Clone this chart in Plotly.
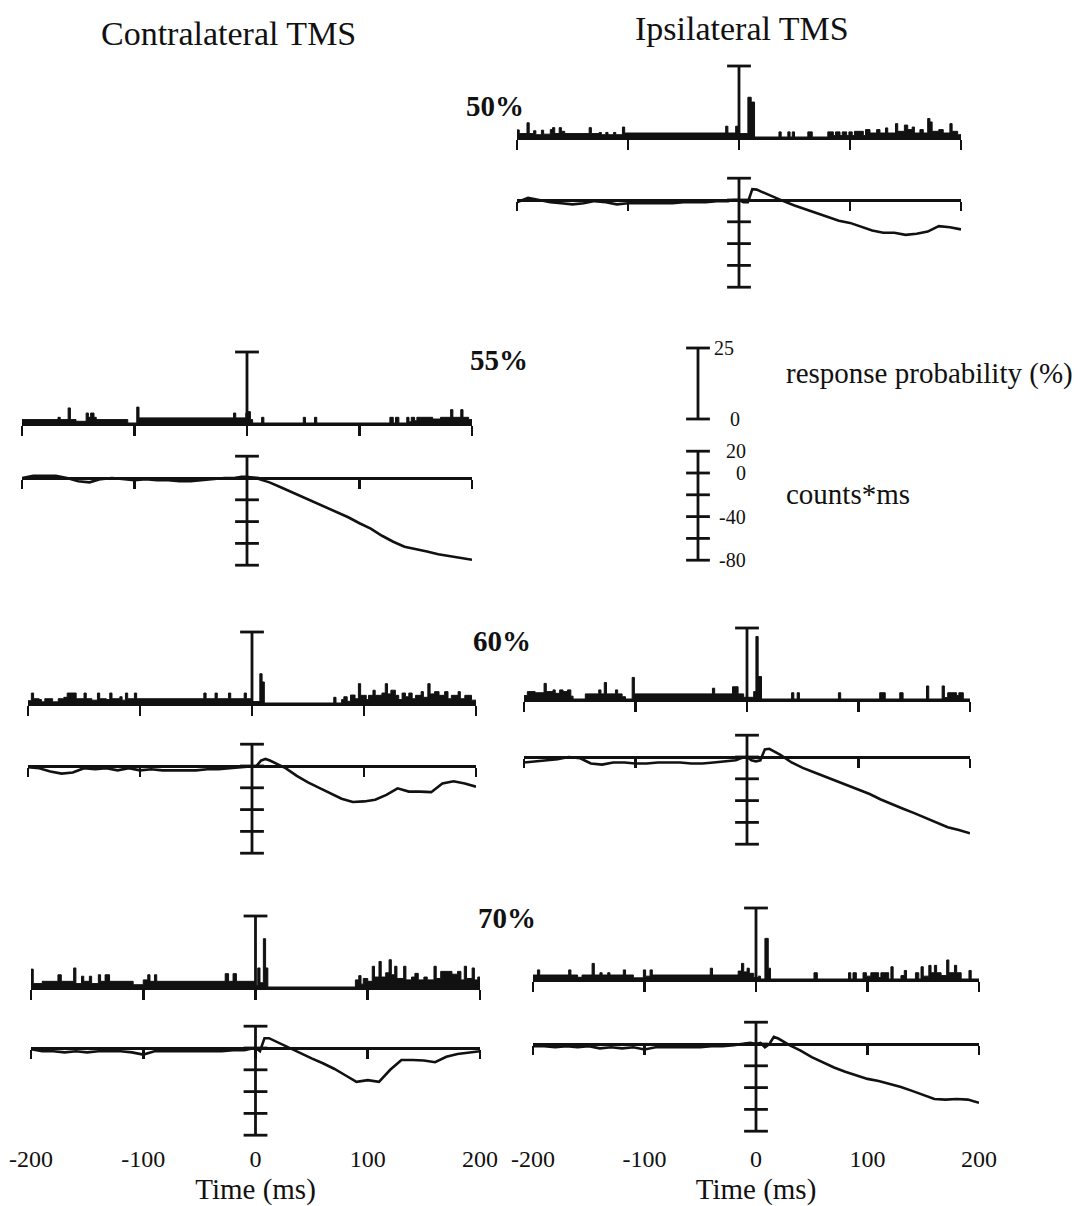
import plotly.graph_objects as go

FIG_W, FIG_H = 1080, 1206
FONT = "Liberation Serif, Times New Roman, serif"
INK = "#111111"

# ---------------- data ----------------
tick_vals = [-200, -100, 0, 100, 200]
tick_labels = ["-200", "-100", "0", "100", "200"]

prob_scale = [0, 25]                         # response probability, %
counts_scale = [20, 0, -20, -40, -60, -80]   # cumulative sum, counts*ms
prob_scale_labels = ["0", "25"]
counts_scale_labels = ["20", "0", "", "-40", "", "-80"]

# time base of the cumulative sums (ms)
cusum_t = [-200, -190, -180, -170, -160, -150, -140, -130, -120, -110,
           -100, -90, -80, -70, -60, -50, -40, -30, -20, -10,
           -5, 0, 4, 8, 12, 16, 20,
           30, 40, 50, 60, 70, 80, 90, 100, 110, 120,
           130, 140, 150, 160, 170, 180, 190, 200]

cusum_ipsi50 = [-2, 2, 0, -2, -3, -4, -3, -1, -2, -4,
                -3, -3, -3, -3, -3, -2, -2, -2, -1, -1,
                0, 0, -2, -2, 10, 9.5, 7.7,
                3, -1, -5, -8.5, -12, -15.5, -19, -21, -24.5, -28,
                -30, -30, -32, -31, -29, -24, -25, -27]

cusum_contra55 = [0, 2, 2, 2, 0, -3, -4, -1, 0, -1,
                  -2, -1, -2, -2, -3, -3, -2, -1, 0, 0,
                  1, 1, 0.5, 0, -1.5, -3, -4,
                  -8.5, -13, -17.5, -22, -26.5, -31, -36, -41.5, -46.5, -53,
                  -58.5, -63, -65, -67.5, -70, -71.5, -73, -75]

cusum_contra60 = [-1, -2, -5, -7, -6, -2, -3, -2, -4, -2,
                  -4, -3, -4, -4, -4, -4, -3, -3, -2, -1,
                  -1, 0, 0, 5, 6.5, 5, 3,
                  -2, -9, -15, -20, -25, -30, -33, -32.5, -31, -26.5,
                  -20.5, -23.5, -23.5, -24, -16, -14, -16, -19]

cusum_ipsi60 = [-5, -4, -3, -2, 0, -1, -6, -7, -5, -5,
                -6, -6, -5, -5, -5, -6, -6, -5, -4, -3,
                -1, 0, -3, -4, -3, 7, 7.5,
                2, -5, -10, -14, -18, -22, -26, -30, -34, -39,
                -43.5, -47.5, -51.5, -56, -60, -64.5, -67, -70]

cusum_contra70 = [-1, -3, -3, -4, -3, -4, -3, -3, -3, -4,
                  -6, -3, -3, -3, -3, -3, -3, -3, -2, -2,
                  -1, 0, -3, 9, 9, 7, 5,
                  0, -5, -9.5, -14, -19, -25, -31, -29.5, -31, -20,
                  -11, -11, -11.5, -13, -8, -5.5, -4, -3]

cusum_ipsi70 = [-2, -2, -3, -2, -3, -2, -4, -3, -4, -3,
                -5, -3, -3, -3, -3, -3, -2, -2, -1, 0,
                1, 0, 1, -3, 0, 6.5, 5,
                -1, -6, -12, -17, -21.5, -25.5, -29, -32, -34, -36.5,
                -39.5, -43, -47, -50.5, -51, -50.5, -51, -54]

# peristimulus histograms: (bin start in ms, response probability in %),
# each value holds until the next bin start
psth_ipsi50 = [(-200, 2.5), (-198, 1.2), (-191, 5.0), (-189, 1.2), (-185, 2.2), (-183, 0.8),
               (-178, 2.4), (-176, 1.0), (-170, 2.6), (-168, 3.3), (-166, 1.2), (-162, 3.3),
               (-160, 2.0), (-157, 1.2), (-135, 3.3), (-133, 1.2), (-126, 1.6), (-124, 0.8),
               (-120, 1.6), (-118, 0.8), (-113, 1.6), (-111, 0.8), (-105, 3.5), (-103, 1.4),
               (-12, 3.8), (-10, 1.4), (-3, 3.8), (0, 1.2), (8, 14.0), (11, 12.3), (14, 0),
               (36, 1.8), (38, 0), (44, 1.8), (46, 0), (48, 1.8), (50, 0), (62, 1.8), (66, 0),
               (80, 1.8), (85, 0.5), (87, 1.8), (91, 0.5), (93, 1.8), (97, 0.5), (99, 1.8),
               (102, 0.5), (104, 2.0), (112, 0.5), (114, 2.6), (118, 1.4), (124, 2.6),
               (127, 1.4), (132, 3.2), (134, 1.4), (141, 4.7), (143, 2.0), (149, 4.2),
               (152, 2.6), (156, 3.5), (158, 1.4), (163, 2.6), (166, 1.4), (170, 6.5),
               (172, 5.3), (174, 2.0), (180, 2.6), (184, 1.4), (190, 4.7), (192, 2.0),
               (197, 0.8), (200, 0)]

psth_contra55 = [(-200, 1.2), (-168, 2.0), (-166, 1.2), (-159, 5.3), (-157, 1.2), (-152, 0.6),
                 (-143, 3.5), (-141, 2.0), (-139, 3.5), (-136, 2.0), (-134, 1.2), (-106, 0),
                 (-98, 5.6), (-96, 1.8), (-12, 3.5), (-10, 1.8), (-1, 3.5), (1, 4.0), (3, 1.2),
                 (5, 0), (13, 2.0), (15, 0), (50, 2.0), (52, 0), (60, 2.0), (62, 0), (127, 2.0),
                 (130, 0), (132, 2.0), (135, 0), (142, 2.0), (144, 0.4), (146, 2.0), (149, 0.8),
                 (151, 2.0), (165, 1.4), (172, 2.0), (181, 4.7), (183, 2.0), (190, 4.7),
                 (192, 2.0), (197, 1.2), (200, 0)]

psth_contra60 = [(-200, 0.8), (-197, 3.5), (-195, 1.5), (-190, 1.2), (-188, 0.4), (-185, 1.5),
                 (-178, 0.4), (-173, 1.5), (-168, 2.0), (-165, 3.5), (-157, 1.5), (-150, 3.5),
                 (-148, 1.5), (-143, 1.0), (-138, 3.5), (-136, 1.5), (-130, 1.2), (-127, 3.5),
                 (-125, 1.5), (-118, 2.2), (-116, 1.0), (-113, 3.5), (-111, 1.5), (-105, 3.5),
                 (-103, 1.5), (-43, 3.5), (-41, 1.5), (-33, 3.5), (-31, 1.5), (-21, 3.5),
                 (-19, 1.5), (-7, 3.5), (-5, 1.5), (-1, 0.5), (7, 10.3), (9, 7.4), (11, 0),
                 (73, 2.0), (75, 0), (80, 1.2), (82, 2.2), (85, 0.6), (88, 2.8), (92, 1.5),
                 (95, 6.8), (97, 2.7), (102, 1.2), (104, 2.7), (108, 4.5), (110, 2.7),
                 (116, 3.5), (119, 6.8), (121, 3.2), (124, 4.5), (128, 2.7), (131, 1.2),
                 (134, 3.5), (137, 2.2), (140, 3.5), (143, 1.5), (146, 2.7), (151, 4.0),
                 (153, 2.0), (157, 6.8), (159, 3.2), (163, 4.0), (167, 2.7), (172, 4.0),
                 (175, 1.5), (178, 2.7), (184, 4.0), (186, 1.5), (190, 2.7), (196, 1.0), (200, 0)]

psth_ipsi60 = [(-200, 1.2), (-197, 2.6), (-190, 2.2), (-182, 5.5), (-180, 2.6), (-174, 3.2),
               (-172, 2.0), (-168, 3.2), (-165, 2.6), (-161, 3.2), (-158, 1.0), (-156, 0),
               (-145, 1.8), (-133, 3.2), (-131, 1.8), (-128, 5.8), (-126, 1.8), (-118, 3.2),
               (-116, 1.8), (-112, 0.8), (-109, 0), (-103, 7.6), (-101, 1.8), (-31, 3.8),
               (-29, 1.8), (-13, 4.3), (-8, 1.8), (-3, 0.6), (6, 2.6), (8, 22.0), (10, 7.9),
               (13, 0), (40, 2.2), (42, 0), (45, 2.2), (47, 0), (82, 2.2), (84, 0), (119, 2.2),
               (124, 0), (137, 2.2), (140, 0), (161, 4.6), (163, 0), (175, 4.6), (177, 0.5),
               (180, 2.2), (188, 1.2), (190, 2.2), (194, 0), (200, 0)]

psth_contra70 = [(-200, 6.3), (-198, 1.2), (-190, 2.0), (-176, 4.3), (-173, 2.0), (-162, 6.7),
                 (-160, 1.2), (-155, 3.8), (-153, 2.0), (-148, 3.8), (-146, 1.2), (-140, 4.3),
                 (-138, 2.0), (-134, 4.3), (-130, 2.0), (-109, 0.8), (-100, 2.5), (-96, 4.3),
                 (-94, 2.0), (-90, 4.3), (-88, 2.0), (-27, 4.7), (-24, 2.0), (-20, 4.7),
                 (-17, 2.0), (-1, 0.5), (2, 6.7), (4, 1.5), (7, 17.0), (9, 6.7), (11, 0),
                 (89, 2.5), (92, 4.0), (94, 1.0), (96, 3.0), (100, 2.0), (104, 7.3), (106, 3.5),
                 (110, 9.0), (112, 3.5), (116, 5.0), (119, 9.6), (121, 4.3), (124, 7.3),
                 (126, 3.0), (132, 7.3), (134, 2.5), (139, 3.5), (142, 4.8), (145, 2.5),
                 (150, 3.5), (153, 2.5), (159, 7.3), (161, 3.0), (165, 5.5), (175, 4.5),
                 (180, 5.5), (183, 2.5), (186, 7.3), (188, 3.0), (193, 6.7), (195, 2.5),
                 (198, 3.5), (200, 0)]

psth_ipsi70 = [(-200, 1.4), (-196, 3.2), (-194, 1.4), (-168, 3.2), (-166, 1.4), (-160, 0.6),
               (-156, 1.4), (-147, 5.5), (-145, 1.4), (-140, 2.2), (-138, 1.4), (-133, 2.2),
               (-131, 1.4), (-119, 3.2), (-117, 1.4), (-110, 0.4), (-101, 3.2), (-99, 1.0),
               (-95, 3.2), (-93, 1.4), (-41, 3.8), (-39, 1.4), (-16, 2.8), (-13, 5.5),
               (-11, 2.5), (-8, 3.8), (-6, 2.0), (-2, 0.5), (2, 1.0), (4, 0), (8, 14.3),
               (11, 3.8), (13, 0), (52, 2.2), (55, 0), (83, 2.2), (85, 0), (87, 2.2), (90, 0),
               (96, 2.2), (99, 1.0), (103, 2.2), (110, 0.5), (112, 2.2), (119, 0), (121, 4.3),
               (123, 0), (130, 1.2), (133, 3.0), (135, 0), (143, 2.2), (146, 0), (148, 4.3),
               (150, 1.0), (155, 4.8), (157, 2.2), (160, 4.8), (162, 2.2), (166, 1.2),
               (171, 6.7), (173, 2.2), (178, 4.8), (180, 2.2), (184, 0), (191, 3.0), (193, 0),
               (200, 0)]

# ---------------- page layout (pixels) ----------------
# (histogram, cumulative sum, x of -200 ms, x of +200 ms, histogram baseline y, cusum zero y)
PANELS = [
    (psth_ipsi50, cusum_ipsi50, 517, 961, 137, 200),
    (psth_contra55, cusum_contra55, 22, 472, 423, 478),
    (psth_contra60, cusum_contra60, 28, 476, 703, 766),
    (psth_ipsi60, cusum_ipsi60, 524, 970, 699, 757),
    (psth_contra70, cusum_contra70, 31, 480, 987, 1048),
    (psth_ipsi70, cusum_ipsi70, 533, 979, 979, 1044),
]
BOTTOM_ROW = [4, 5]           # panels carrying the time labels
LABEL_ROW_Y = 1142

PX_PER_PCT = 71 / 25          # vertical scale of the histograms
PX_PER_COUNT = 1.09           # vertical scale of the cumulative sums
PX_PER_MS = 1.11
PSTH_RANGE = [0, 27]
CUSUM_RANGE = [-90, 30]
LINE_W = 2.8
CURVE_W = 2.6
CAP = 17

# scale-bar key
KEY_X0, KEY_PROB_BASE, KEY_COUNT_ZERO = 698, 419, 473


def fx(px):
    return px / FIG_W


def fy(px):
    return 1 - px / FIG_H


def axkey(letter, i):
    return f"{letter}axis" if i == 1 else f"{letter}axis{i}"


def ref(letter, i):
    return letter if i == 1 else f"{letter}{i}"


def bar_line(values, xr, yr):
    lo, hi = min(values), max(values)
    return go.Scatter(x=[0, 0], y=[lo, hi], mode="lines", xaxis=xr, yaxis=yr,
                      line=dict(color=INK, width=LINE_W), hoverinfo="skip", showlegend=False)


def bar_caps(values, xr, yr):
    return go.Scatter(x=[0] * len(values), y=values, mode="markers", xaxis=xr, yaxis=yr,
                      marker=dict(symbol="line-ew", size=CAP, color=INK,
                                  line=dict(color=INK, width=LINE_W)),
                      cliponaxis=False, hoverinfo="skip", showlegend=False)


fig = go.Figure()
axes = {}
hidden = dict(visible=False, automargin=False)

for k, (psth, cusum, x0, x1, base, zero) in enumerate(PANELS):
    assert len(cusum) == len(cusum_t)
    hi, ci = 2 * k + 1, 2 * k + 2
    xdom = [fx(x0), fx(x1)]

    # histogram
    axes[axkey("x", hi)] = dict(
        domain=xdom, range=[-200, 200], anchor=ref("y", hi), automargin=False,
        showline=True, linewidth=LINE_W, linecolor=INK,
        ticks="outside", ticklen=10, tickwidth=LINE_W, tickcolor=INK,
        tickvals=tick_vals, showticklabels=False, showgrid=False, zeroline=False)
    axes[axkey("y", hi)] = dict(
        domain=[fy(base), fy(base - PSTH_RANGE[1] * PX_PER_PCT)],
        range=PSTH_RANGE, anchor=ref("x", hi), **hidden)
    fig.add_trace(go.Scatter(
        x=[t for t, _ in psth], y=[v for _, v in psth], mode="lines",
        line=dict(shape="hv", width=1, color=INK), fill="tozeroy", fillcolor=INK,
        xaxis=ref("x", hi), yaxis=ref("y", hi), hoverinfo="skip", showlegend=False))
    fig.add_trace(bar_line(prob_scale, ref("x", hi), ref("y", hi)))
    fig.add_trace(bar_caps(prob_scale[-1:], ref("x", hi), ref("y", hi)))

    # cumulative sum, its time axis crossing at zero
    axes[axkey("x", ci)] = dict(
        domain=xdom, range=[-200, 200], anchor="free", position=fy(zero), automargin=False,
        showline=True, linewidth=LINE_W, linecolor=INK,
        ticks="outside", ticklen=9, tickwidth=LINE_W, tickcolor=INK,
        tickvals=tick_vals, showticklabels=False, showgrid=False, zeroline=False)
    axes[axkey("y", ci)] = dict(
        domain=[fy(zero - CUSUM_RANGE[0] * PX_PER_COUNT), fy(zero - CUSUM_RANGE[1] * PX_PER_COUNT)],
        range=CUSUM_RANGE, anchor=ref("x", ci), **hidden)
    fig.add_trace(go.Scatter(
        x=cusum_t, y=cusum, mode="lines", line=dict(color=INK, width=CURVE_W),
        xaxis=ref("x", ci), yaxis=ref("y", ci), hoverinfo="skip", showlegend=False))
    fig.add_trace(bar_line(counts_scale, ref("x", ci), ref("y", ci)))
    fig.add_trace(bar_caps(counts_scale, ref("x", ci), ref("y", ci)))

# time labels under the bottom row
for n, k in enumerate(BOTTOM_ROW):
    ci = 2 * k + 2
    li = 2 * len(PANELS) + 2 + n
    axes[axkey("x", li)] = dict(
        overlaying=ref("x", ci), anchor="free", position=fy(LABEL_ROW_Y), automargin=False,
        range=[-200, 200], tickvals=tick_vals, ticktext=tick_labels, ticks="",
        showline=False, showgrid=False, zeroline=False,
        tickfont=dict(family=FONT, size=24, color=INK),
        title=dict(text="Time (ms)", font=dict(family=FONT, size=29, color=INK), standoff=8))
    fig.add_trace(go.Scatter(x=[-200, 200], y=[None, None], mode="lines",
                             xaxis=ref("x", li), yaxis=ref("y", ci),
                             hoverinfo="skip", showlegend=False))

# scale-bar key
kx = 2 * len(PANELS) + 1
kp, kc = kx, kx + 1
axes[axkey("x", kx)] = dict(
    domain=[fx(KEY_X0 - 20 * PX_PER_MS), fx(KEY_X0 + 60 * PX_PER_MS)],
    range=[-20, 60], anchor=ref("y", kp), **hidden)
axes[axkey("y", kp)] = dict(
    domain=[fy(KEY_PROB_BASE), fy(KEY_PROB_BASE - PSTH_RANGE[1] * PX_PER_PCT)],
    range=PSTH_RANGE, anchor=ref("x", kx), **hidden)
axes[axkey("y", kc)] = dict(
    domain=[fy(KEY_COUNT_ZERO - CUSUM_RANGE[0] * PX_PER_COUNT),
            fy(KEY_COUNT_ZERO - CUSUM_RANGE[1] * PX_PER_COUNT)],
    range=CUSUM_RANGE, anchor=ref("x", kx), **hidden)
fig.add_trace(bar_line(prob_scale, ref("x", kx), ref("y", kp)))
fig.add_trace(bar_caps(prob_scale, ref("x", kx), ref("y", kp)))
fig.add_trace(bar_line(counts_scale, ref("x", kx), ref("y", kc)))
fig.add_trace(bar_caps(counts_scale, ref("x", kx), ref("y", kc)))

annotations = []
key_font = dict(family=FONT, size=20, color=INK)
for val, txt, xoff in zip(prob_scale, prob_scale_labels, [27, 12.6]):
    annotations.append(dict(x=xoff, y=val, xref=ref("x", kx), yref=ref("y", kp), text=txt,
                            showarrow=False, xanchor="left", yanchor="middle", font=key_font))
for val, txt in zip(counts_scale, counts_scale_labels):
    if txt:
        annotations.append(dict(x=45, y=val, xref=ref("x", kx), yref=ref("y", kc), text=txt,
                                showarrow=False, xanchor="right", yanchor="middle", font=key_font))

# page text
text_items = [
    ("Contralateral TMS", 228, 34, 34, False),
    ("Ipsilateral TMS", 742, 28, 34, False),
    ("50%", 495, 106, 29, True),
    ("55%", 499, 360, 29, True),
    ("60%", 502, 641, 29, True),
    ("70%", 507, 918, 29, True),
    ("response probability (%)", 929, 373, 29, False),
    ("counts*ms", 848, 494, 29, False),
]
for txt, x, y, size, bold in text_items:
    annotations.append(dict(
        x=fx(x), y=fy(y), xref="paper", yref="paper", showarrow=False,
        xanchor="center", yanchor="middle",
        text=f"<b>{txt}</b>" if bold else txt,
        font=dict(family=FONT, size=size, color=INK)))

fig.update_layout(
    width=FIG_W, height=FIG_H,
    margin=dict(l=0, r=0, t=0, b=0, pad=0, autoexpand=False),
    paper_bgcolor="white", plot_bgcolor="white",
    showlegend=False,
    annotations=annotations,
    **axes,
)

fig.write_html("out.html", config={"displayModeBar": False, "staticPlot": True})
